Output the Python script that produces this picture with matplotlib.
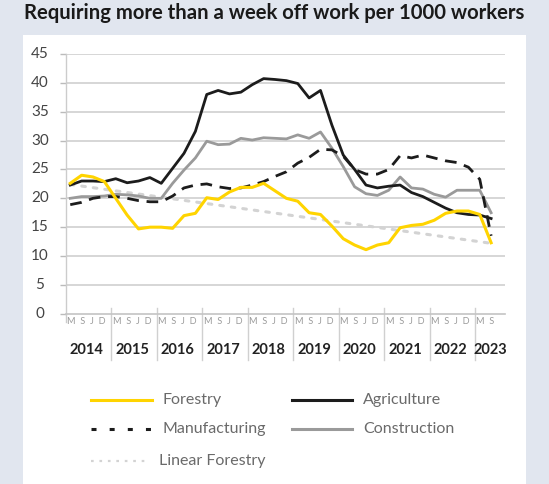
import numpy as np
import matplotlib
matplotlib.use("Agg")
import matplotlib.pyplot as plt
from matplotlib.patches import Rectangle
from matplotlib.lines import Line2D

# ---------------- data ----------------
years = ["2014", "2015", "2016", "2017", "2018", "2019", "2020", "2021", "2022", "2023"]
quarter_labels = ["M  S  J  D"] * 9 + ["M  S"]
quarters_per_year = [4, 4, 4, 4, 4, 4, 4, 4, 4, 2]

forestry = [22.6, 24.0, 23.7, 22.9,
            20.0, 17.1, 14.7, 15.0,
            15.0, 14.8, 17.0, 17.4,
            20.1, 19.8, 21.1, 21.9,
            21.9, 22.6, 21.3, 20.0,
            19.5, 17.5, 17.2, 15.2,
            13.0, 11.9, 11.1, 11.9,
            12.3, 14.9, 15.3, 15.5,
            16.2, 17.4, 17.8, 17.8,
            17.2, 12.3]
agriculture = [22.3, 23.0, 23.0, 22.9,
               23.4, 22.7, 23.0, 23.6,
               22.6, 25.2, 27.8, 31.6,
               38.0, 38.7, 38.1, 38.4,
               39.7, 40.75, 40.6, 40.4,
               39.9, 37.4, 38.7, 32.7,
               27.5, 25.0, 22.3, 21.8,
               22.1, 22.3, 21.0, 20.3,
               19.3, 18.3, 17.5, 17.2,
               17.1, 16.5]
manufacturing = [18.9, 19.3, 20.0, 20.3,
                 20.3, 20.0, 19.6, 19.4,
                 19.4, 20.4, 21.8, 22.3,
                 22.5, 22.0, 21.7, 21.8,
                 22.3, 22.9, 23.8, 24.6,
                 26.1, 27.1, 28.5, 28.4,
                 27.3, 25.0, 24.2, 24.2,
                 25.0, 27.4, 27.0, 27.5,
                 27.0, 26.5, 26.2, 25.4,
                 23.3, 13.5]
construction = [20.0, 20.3, 20.3, 20.4,
                20.7, 20.6, 20.4, 20.0,
                20.0, 22.6, 24.9, 27.0,
                29.9, 29.3, 29.4, 30.4,
                30.1, 30.5, 30.4, 30.3,
                31.0, 30.4, 31.5, 28.7,
                25.5, 22.0, 20.8, 20.5,
                21.4, 23.7, 21.8, 21.6,
                20.7, 20.2, 21.4, 21.4,
                21.4, 17.5]
linear_forestry_ends = [22.4, 12.2]   # trend line value at first and last quarter
yticks = [0, 5, 10, 15, 20, 25, 30, 35, 40, 45]

# ---------------- style ----------------
W, H = 549, 484
BG = "#e1e6ef"
YELLOW = "#ffd400"
BLACK = "#1c1c1c"
GREY = "#9a9a9a"
DOT = "#d3d3d3"
plt.rcParams["font.family"] = ["Lato", "DejaVu Sans"]

def fx(x):
    return x / W

def fy(y):
    return 1 - y / H

fig = plt.figure(figsize=(W / 100, H / 100), dpi=100, facecolor=BG)
fig.patches.append(Rectangle((fx(23), 0), fx(526) - fx(23), fy(35), transform=fig.transFigure,
                             facecolor="white", edgecolor="none", zorder=-10))

fig.text(fx(24), fy(13), "Requiring more than a week off work per 1000 workers",
         fontsize=14.6, fontweight="bold", color="#1a1a1a", va="center", ha="left")

x_left_px, x_right_px = 65.7, 505
y0_px, y45_px = 313.7, 54.1
ax = fig.add_axes([fx(x_left_px), fy(y0_px), fx(x_right_px) - fx(x_left_px),
                   (y0_px - y45_px) / H])
ax.set_facecolor("none")
ax.set_ylim(0, 45)
ax.set_xlim(-0.4, 38.22)

x = np.arange(len(forestry))

ax.plot(x[[0, -1]], linear_forestry_ends, color=DOT, lw=2.2, dashes=(1.2, 2.6),
        dash_capstyle="round", zorder=2)
ax.plot(x, construction, color=GREY, lw=2.0, zorder=3)
ax.plot(x, manufacturing, color=BLACK, lw=2.0, dashes=(4.2, 2.8), zorder=4)
ax.plot(x, agriculture, color=BLACK, lw=2.0, zorder=5)
ax.plot(x, forestry, color=YELLOW, lw=2.2, zorder=6)

# grid
for v in yticks[1:]:
    ax.axhline(v, color="#cfcfcf", lw=1.2, zorder=1)
for s in ["top", "right"]:
    ax.spines[s].set_visible(False)
ax.spines["left"].set_color("#cccccc")
ax.spines["bottom"].set_color("#c4c4c4")
ax.spines["left"].set_linewidth(1.0)
ax.spines["bottom"].set_linewidth(1.2)
ax.set_xticks([])
ax.set_yticks(yticks)
ax.set_yticklabels([])
ax.tick_params(axis="y", length=4, color="#bbbbbb", width=1)

px_per_unit = (y0_px - y45_px) / 45.0
def data_y(ypx):
    return (y0_px - ypx) / px_per_unit

for v in yticks:
    ax.text(-0.4 - (x_left_px - 40) / 11.375, v, str(v), ha="center", va="center",
            fontsize=11, color="#444444", clip_on=False)

# year separators and category labels
start = -0.4
ax.plot([start, start], [0, data_y(322)], color="#cccccc", lw=1.0, clip_on=False)
pos = start
for i, (yr, ql, n) in enumerate(zip(years, quarter_labels, quarters_per_year)):
    end = pos + n
    if i < len(years) - 1:
        ax.plot([end, end], [data_y(307.5), data_y(360)], color="#d0d0d0", lw=1.0, clip_on=False)
    qc = pos + n / 2.0
    ax.text(qc - 0.15, data_y(322), ql, ha="center", va="center", fontsize=6.6,
            color="#9a9a9a", clip_on=False)
    yc = qc if i < len(years) - 1 else qc + 0.45
    ax.text(yc - 0.15, data_y(350), yr, ha="center", va="center", fontsize=10.5,
            fontweight="bold", color="#222222", clip_on=False)
    pos = end

# legend
legend_items = [
    ("Forestry", dict(color=YELLOW, lw=2.2), 91, 152, 400),
    ("Agriculture", dict(color=BLACK, lw=2.2), 292, 352, 400),
    ("Manufacturing", dict(color=BLACK, lw=2.2, dashes=(1.64, 4.3)), 91, 152, 429),
    ("Construction", dict(color=GREY, lw=2.2), 292, 352, 429),
    ("Linear Forestry", dict(color=DOT, lw=1.6, dashes=(1.2, 2.6)), 91, 148, 461),
]
for label, style, x0, x1, yy in legend_items:
    fig.add_artist(Line2D([fx(x0), fx(x1)], [fy(yy), fy(yy)], transform=fig.transFigure, **style))
    fig.text(fx(x1 + 11), fy(yy), label, ha="left", va="center", fontsize=11.5,
             color="#6a6a6a")

fig.savefig("out.png", dpi=100, facecolor=BG)
